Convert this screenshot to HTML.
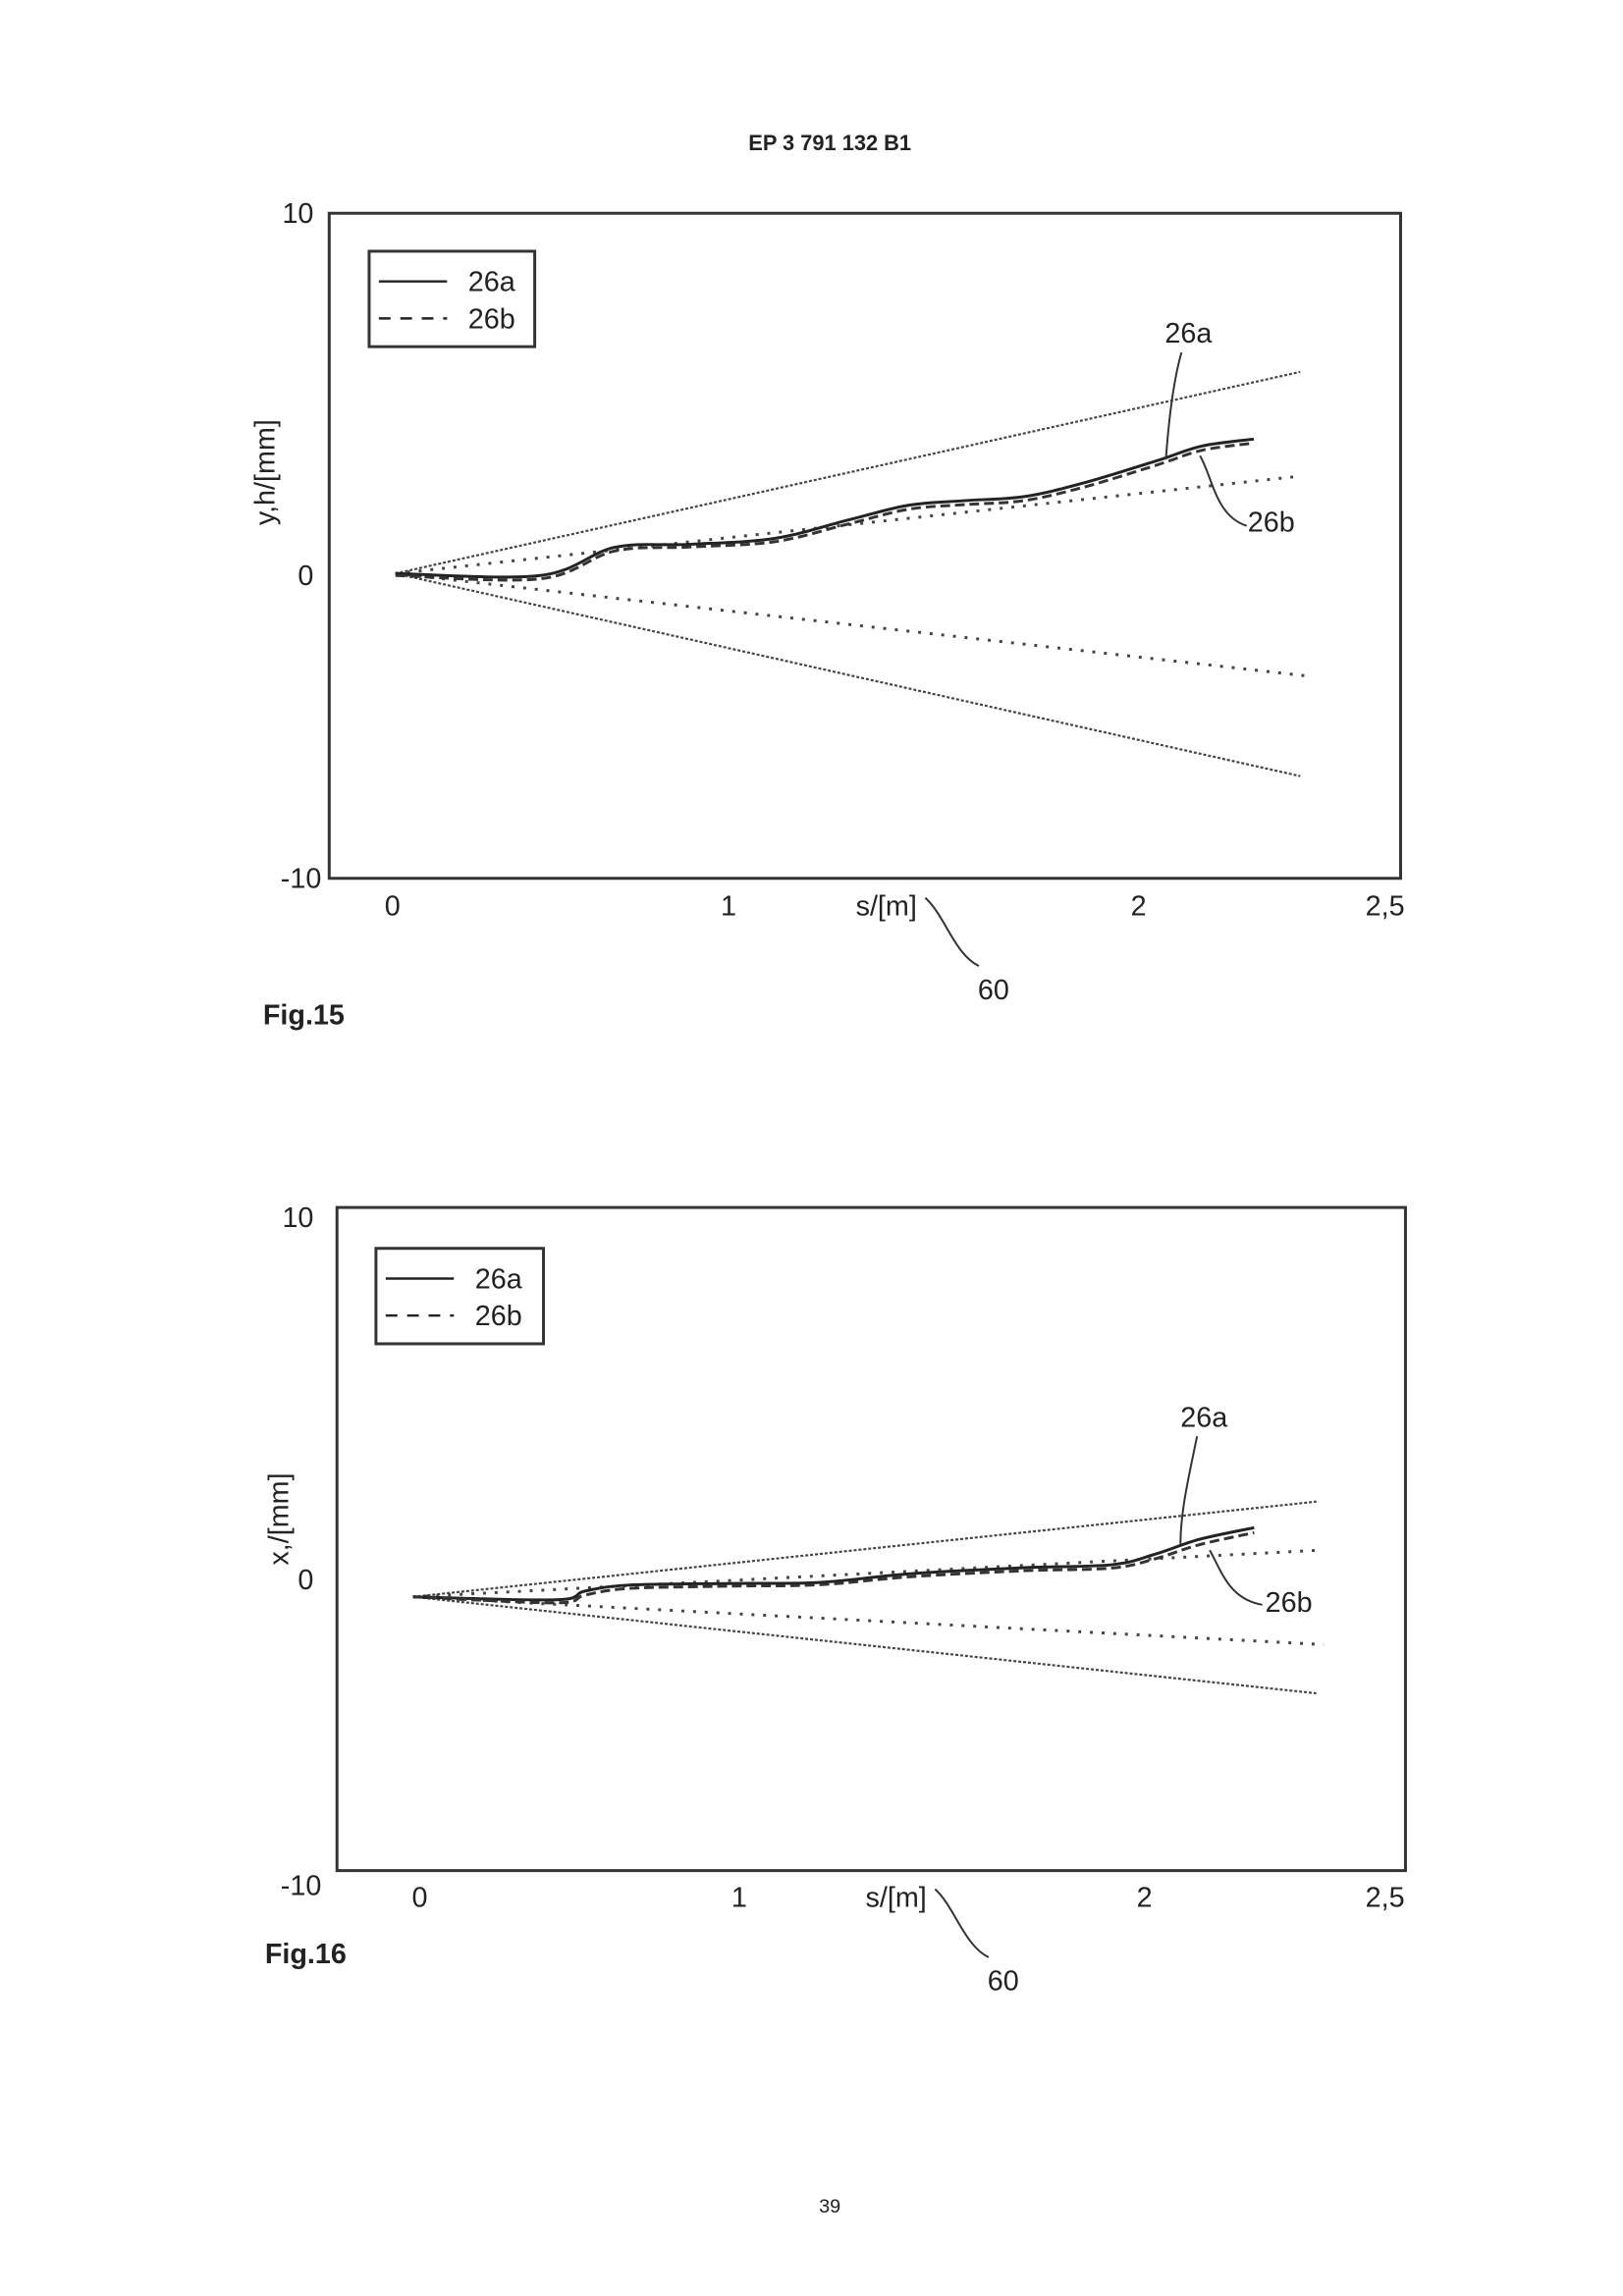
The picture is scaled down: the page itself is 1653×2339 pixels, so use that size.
<!DOCTYPE html>
<html><head><meta charset="utf-8"><style>
body{margin:0;background:#fff;}
svg{display:block;}
text{font-family:"Liberation Sans",sans-serif;fill:#222;}
</style></head><body>
<svg id="page" width="1653" height="2339" viewBox="0 0 1653 2339" xmlns="http://www.w3.org/2000/svg">
<g transform="scale(0.992)">
<text x="852" y="154" font-size="22" font-weight="bold" text-anchor="middle">EP 3 791 132 B1</text>
<text x="852" y="2272" font-size="20" text-anchor="middle">39</text>
<g id="fig15"></g>
<g id="fig16"></g>
</g>
</svg>
<script>
// Fig.15 data
const f15S = [0,0.39,0.59,0.79,1.02,1.22,1.38,1.53,1.69,1.85,2.05,2.17,2.31];
const f15A = [0.06,0,0.85,0.94,1.12,1.68,2.12,2.26,2.38,2.79,3.47,3.91,4.12];
const f15B = [0.0,-0.1,0.74,0.86,1.02,1.56,2.0,2.14,2.26,2.66,3.34,3.78,4.0];
const f15Env = [6.15,3.0,-3.03,-6.06];
const f15EnvEnd = [2.435,2.435,2.45,2.435];
// Fig.16 data
const f16S = [0,0.39,0.47,0.59,0.87,1.11,1.36,1.67,1.91,2.03,2.15,2.30];
const f16A = [-0.52,-0.61,-0.35,-0.17,-0.12,-0.09,0.17,0.35,0.44,0.76,1.2,1.55];
const f16B = [-0.52,-0.7,-0.47,-0.27,-0.2,-0.16,0.08,0.26,0.34,0.62,1.04,1.4];
const f16Env = [2.33,0.87,-1.95,-3.41];
const f16EnvEnd = [2.47,2.47,2.49,2.47];
const yTicks = ["10","0","-10"];
const xTicks = ["0","1","2","2,5"];

const NS="http://www.w3.org/2000/svg";
function mk(parent,tag,attrs,txt){const e=document.createElementNS(NS,tag);for(const k in attrs)e.setAttribute(k,attrs[k]);if(txt!==undefined)e.textContent=txt;parent.appendChild(e);return e;}
function smooth(pts){let d="M"+pts[0][0]+","+pts[0][1];for(let i=0;i<pts.length-1;i++){const p0=pts[i-1]||pts[i],p1=pts[i],p2=pts[i+1],p3=pts[i+2]||p2;
d+=" C"+(p1[0]+(p2[0]-p0[0])/6)+","+(p1[1]+(p2[1]-p0[1])/6)+" "+(p2[0]-(p3[0]-p1[0])/6)+","+(p2[1]-(p3[1]-p1[1])/6)+" "+p2[0]+","+p2[1];}return d;}

function draw(g,cfg,S,A,B,Env,EnvEnd){
  const X=s=>cfg.x0+s*cfg.xs, Y=v=>cfg.y0-v*cfg.ys;
  let e=mk(g,"rect",{x:cfg.bx,y:cfg.by,width:cfg.bw,height:cfg.bh,fill:"none",stroke:"#333","stroke-width":3});
  
  
  yTicks.forEach((t,i)=>{const el=mk(g,"text",{x:cfg.ylx[i],y:cfg.yly[i]+10,"font-size":29,"text-anchor":"end"},t);
    
    });
  xTicks.forEach((t,i)=>{const el=mk(g,"text",{x:cfg.xlx[i],y:cfg.xly,"font-size":29,"text-anchor":"middle"},t);
    
    });
  e=mk(g,"text",{x:0,y:0,"font-size":29,"text-anchor":"middle",transform:"translate("+cfg.ytx+","+cfg.yty+") rotate(-90)"},cfg.ytitle);
  
  
  e=mk(g,"text",{x:cfg.sx,y:cfg.sy,"font-size":29,"text-anchor":"middle"},"s/[m]");
  
  
  e=mk(g,"path",{d:"M"+(cfg.sx+40)+","+(cfg.sy-18)+" C"+(cfg.sx+60)+","+(cfg.sy)+" "+(cfg.sx+70)+","+(cfg.sy+40)+" "+(cfg.sx+95)+","+(cfg.sy+52),fill:"none",stroke:"#333","stroke-width":2});
  
  
  e=mk(g,"text",{x:cfg.sx+110,y:cfg.sy+86,"font-size":29,"text-anchor":"middle"},"60");
  
  
  e=mk(g,"text",{x:cfg.figx,y:cfg.figy,"font-size":29,"font-weight":"bold"},cfg.fig);
  
  
  Env.forEach((v,i)=>{const inner=(i==1||i==2);
    const el=mk(g,"line",{x1:X(0),y1:Y(A[0]),x2:X(EnvEnd[i]),y2:Y(v),stroke:"#444","stroke-width":inner?3:2.2,"stroke-dasharray":inner?"3 9":"3 2"});
    
    });
  e=mk(g,"path",{d:smooth(S.map((s,i)=>[X(s),Y(A[i])])),fill:"none",stroke:"#222","stroke-width":3});
  
  
  e=mk(g,"path",{d:smooth(S.map((s,i)=>[X(s),Y(B[i])])),fill:"none",stroke:"#333","stroke-width":3,"stroke-dasharray":"10 5"});
  
  
  const L=cfg.leg;
  e=mk(g,"rect",{x:L[0],y:L[1],width:L[2],height:L[3],fill:"#fff",stroke:"#333","stroke-width":3});
  
  
  e=mk(g,"line",{x1:L[0]+10,y1:L[1]+31,x2:L[0]+80,y2:L[1]+31,stroke:"#222","stroke-width":2.5});
  
  
  e=mk(g,"text",{x:L[0]+150,y:L[1]+41,"font-size":29,"text-anchor":"end"},"26a");
  
  
  e=mk(g,"line",{x1:L[0]+10,y1:L[1]+69,x2:L[0]+80,y2:L[1]+69,stroke:"#222","stroke-width":2.5,"stroke-dasharray":"12 10"});
  
  
  e=mk(g,"text",{x:L[0]+150,y:L[1]+79,"font-size":29,"text-anchor":"end"},"26b");
  
  
  const c=cfg.ca;
  e=mk(g,"text",{x:c[0],y:c[1],"font-size":29},"26a");
  
  
  e=mk(g,"path",{d:c[2],fill:"none",stroke:"#333","stroke-width":2});
  
  
  const cb=cfg.cb;
  e=mk(g,"text",{x:cb[0],y:cb[1],"font-size":29},"26b");
  
  
  e=mk(g,"path",{d:cb[2],fill:"none",stroke:"#333","stroke-width":2});
  
  
}
draw(document.getElementById("fig15"),{bx:338,by:219,bw:1100,bh:683,x0:406,xs:381.5,y0:591,ys:34,
 ylx:[322,322,330],yly:[219,591,902],xlx:[403,748,1169,1422],xly:940,ytx:282,yty:485,ytitle:"y,h/[mm]",
 sx:910,sy:940,figx:270,figy:1052,fig:"Fig.15",leg:[379,258,170,98],
 ca:[1196,352,"M1213,362 C1205,390 1200,430 1197,472"],
 cb:[1281,546,"M1232,468 C1245,490 1248,530 1280,540"]},f15S,f15A,f15B,f15Env,f15EnvEnd);
draw(document.getElementById("fig16"),{bx:346,by:1240,bw:1097,bh:681,x0:424,xs:375.5,y0:1622,ys:34.3,
 ylx:[322,322,330],yly:[1250,1622,1936],xlx:[431,759,1175,1422],xly:1958,ytx:296,yty:1560,ytitle:"x,/[mm]",
 sx:920,sy:1958,figx:272,figy:2016,fig:"Fig.16",leg:[386,1282,172,98],
 ca:[1212,1465,"M1229,1475 C1222,1510 1212,1550 1212,1586"],
 cb:[1299,1655,"M1242,1592 C1255,1615 1262,1642 1296,1648"]},f16S,f16A,f16B,f16Env,f16EnvEnd);
</script>
</body></html>
